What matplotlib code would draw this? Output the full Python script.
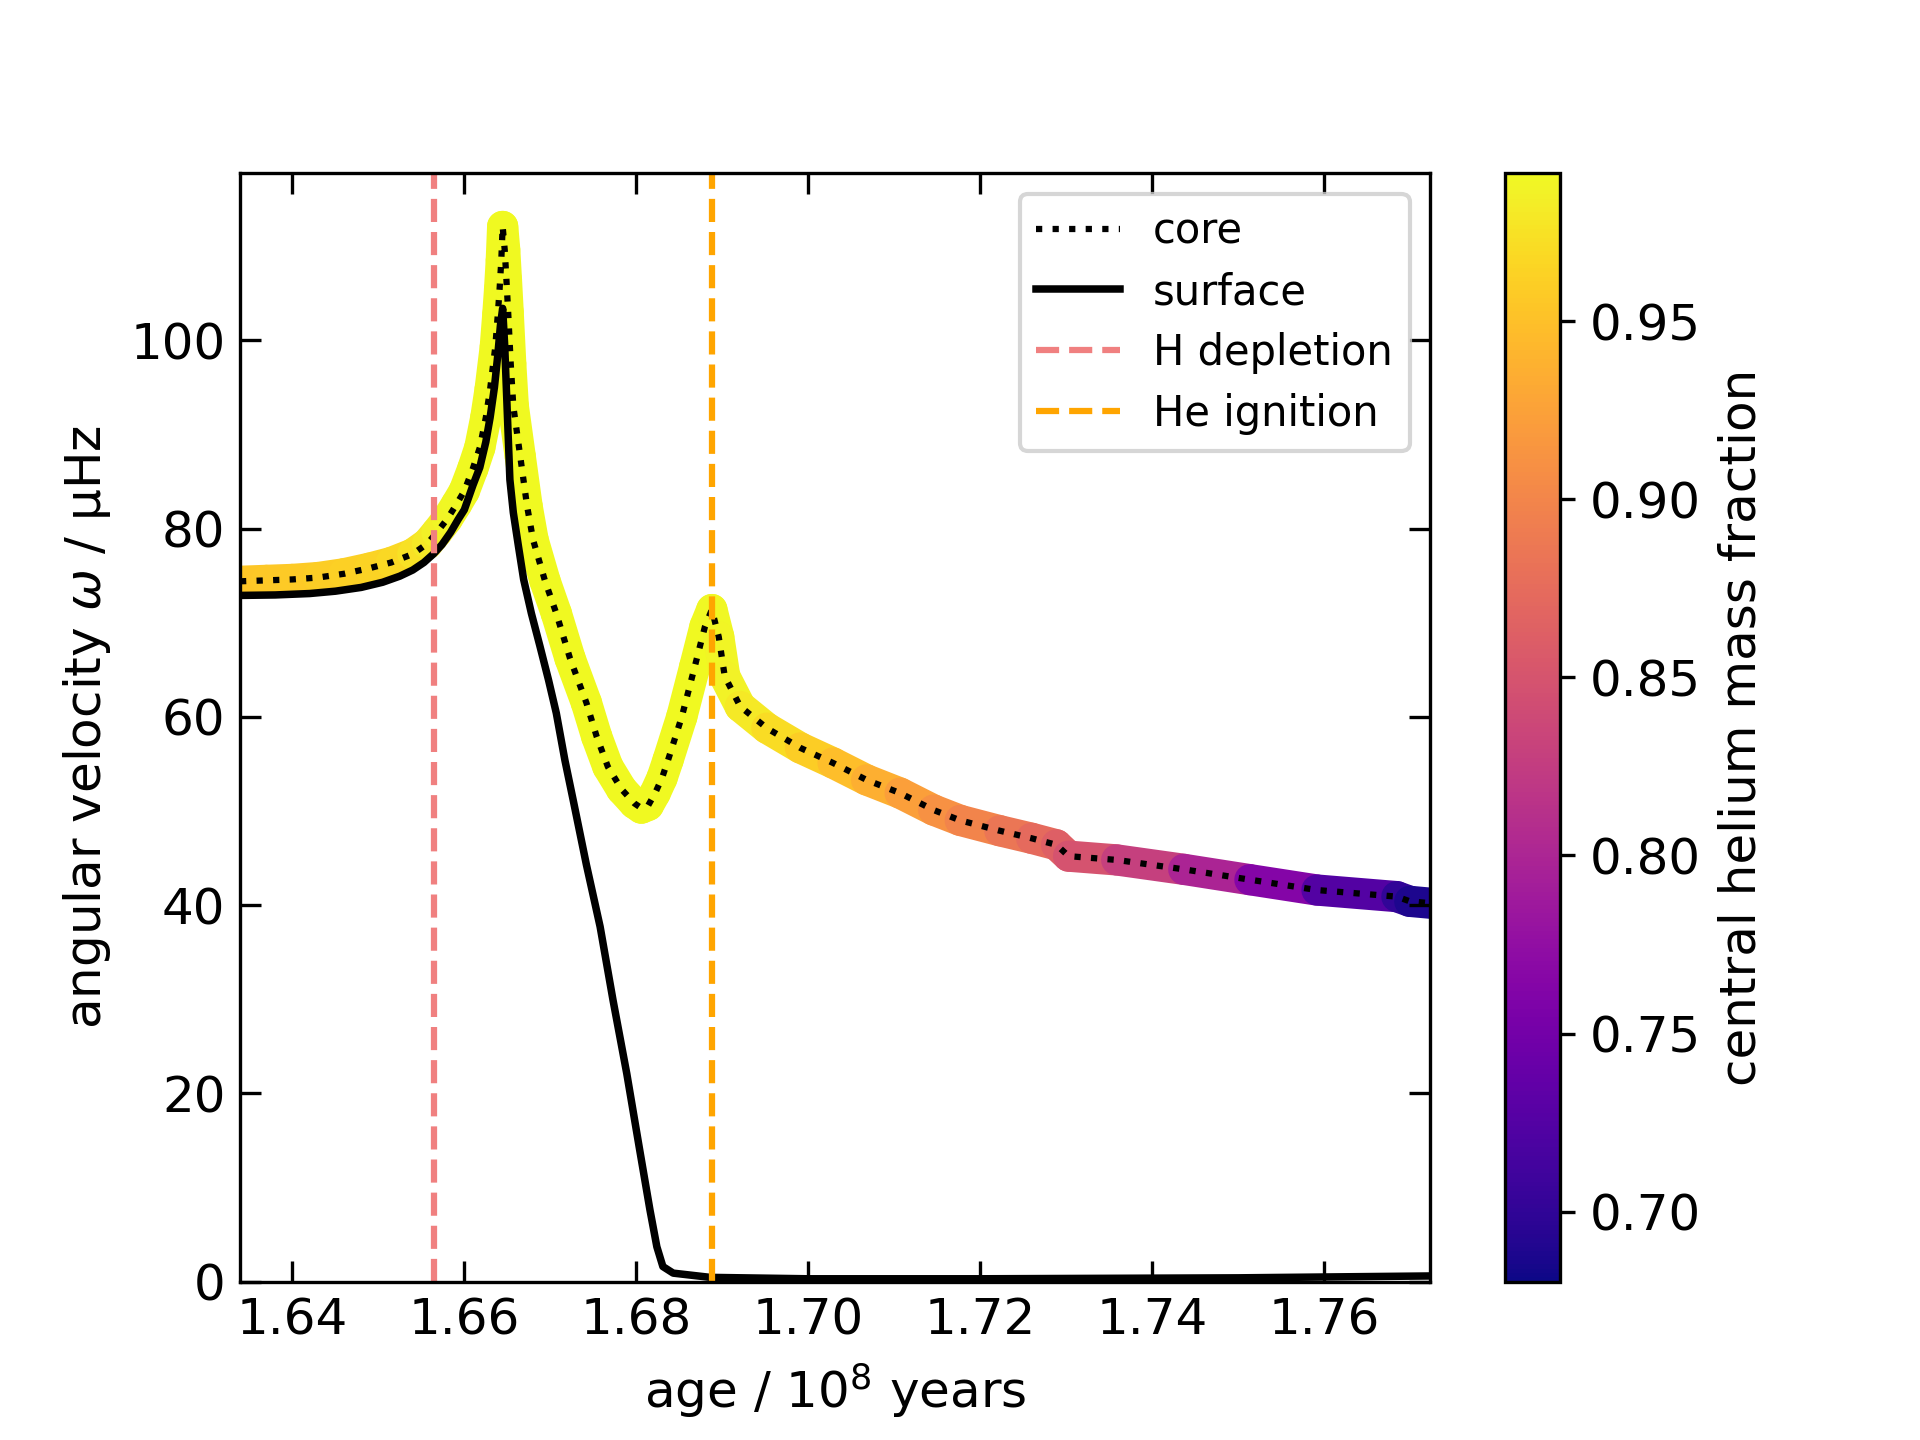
import numpy as np
import matplotlib
matplotlib.use("Agg")
import matplotlib.pyplot as plt
from matplotlib.collections import LineCollection
from matplotlib.colors import Normalize

# core rotation (age in 1e8 yr, omega in muHz)
core_age = [1.6339, 1.6370, 1.6400, 1.6430, 1.6460, 1.6490, 1.6515, 1.6540,
            1.6557, 1.6568, 1.6580, 1.6591, 1.6600, 1.6610, 1.6618, 1.6625,
            1.6630, 1.6636, 1.6639, 1.6641, 1.6643, 1.66446, 1.6647, 1.6649,
            1.6651, 1.6654, 1.6657, 1.6665, 1.6673, 1.6680, 1.6694, 1.6707,
            1.6723, 1.6742, 1.6754, 1.6767, 1.6783, 1.6798, 1.6806, 1.6814,
            1.6822, 1.6830, 1.6837, 1.6853, 1.6868, 1.6880, 1.6888, 1.6896,
            1.6903, 1.6921, 1.6952, 1.6991, 1.7029, 1.7068, 1.7107, 1.7146,
            1.7177, 1.7223, 1.7260, 1.7289, 1.7303, 1.7359, 1.7437, 1.7514,
            1.7592, 1.7685, 1.7700, 1.7724]
core_omega = [74.4, 74.5, 74.6, 74.8, 75.2, 75.8, 76.4, 77.3,
              78.4, 79.6, 81.0, 82.6, 84.0, 86.4, 88.6, 91.8,
              94.8, 99.3, 102.8, 105.4, 108.5, 112.1, 109.6, 106.4,
              103.0, 97.5, 93.0, 87.7, 82.4, 78.8, 74.4, 71.0,
              66.2, 61.5, 57.9, 54.7, 52.3, 50.8, 50.3, 50.6,
              51.9, 53.5, 55.4, 60.0, 65.3, 69.6, 71.4, 68.5,
              64.3, 61.1, 58.8, 56.7, 55.1, 53.3, 51.9, 50.1,
              49.0, 47.9, 47.1, 46.4, 45.2, 44.8, 43.8, 42.7,
              41.6, 40.9, 40.4, 40.2]
core_he = [0.953, 0.955, 0.956, 0.958, 0.960, 0.963, 0.966, 0.971,
           0.977, 0.983, 0.987, 0.989, 0.990, 0.991, 0.991, 0.991,
           0.991, 0.991, 0.991, 0.991, 0.991, 0.9916, 0.9916, 0.9916,
           0.9916, 0.9916, 0.9916, 0.9916, 0.9916, 0.9916, 0.9916, 0.9916,
           0.9916, 0.9916, 0.9916, 0.9916, 0.9916, 0.9916, 0.9916, 0.9916,
           0.9916, 0.9916, 0.9916, 0.9916, 0.9916, 0.9916, 0.991, 0.989,
           0.988, 0.984, 0.975, 0.965, 0.954, 0.943, 0.930, 0.917,
           0.905, 0.892, 0.878, 0.867, 0.857, 0.840, 0.815, 0.783,
           0.745, 0.705, 0.695, 0.6804]

# surface rotation
surf_age = [1.6339, 1.6380, 1.6420, 1.6450, 1.6480, 1.6505, 1.6525, 1.6540,
            1.6553, 1.6564, 1.6574, 1.6584, 1.6593, 1.6600, 1.6610, 1.6618,
            1.6625, 1.6630, 1.6635, 1.6639, 1.6642, 1.66446, 1.6647, 1.6650,
            1.6653, 1.6657, 1.6663, 1.6669, 1.6678, 1.6688, 1.6698, 1.6707,
            1.6717, 1.6727, 1.6742, 1.6758, 1.6773, 1.6789, 1.6804, 1.6816,
            1.6824, 1.6831, 1.6843, 1.6886, 1.7000, 1.7200, 1.7500, 1.7724]
surf_omega = [72.9, 72.95, 73.1, 73.35, 73.75, 74.3, 74.95, 75.6,
              76.4, 77.3, 78.3, 79.6, 81.0, 82.0, 84.6, 86.5,
              89.2, 91.8, 95.0, 98.5, 101.6, 103.4, 99.4, 92.3,
              85.2, 81.7, 78.1, 74.6, 71.0, 67.5, 63.9, 60.4,
              55.4, 51.0, 44.3, 37.7, 29.9, 22.1, 14.0, 7.6,
              3.7, 1.6, 0.9, 0.45, 0.3, 0.3, 0.4, 0.6]

h_depletion_age = 1.6565
he_ignition_age = 1.6888

plt.rcParams["font.size"] = 12

fig, ax = plt.subplots(figsize=(6.4, 4.8), dpi=300)

# thick coloured track of the core, coloured by central He fraction
pts = np.column_stack([core_age, core_omega]).reshape(-1, 1, 2)
segs = np.concatenate([pts[:-1], pts[1:]], axis=1)
he = np.asarray(core_he)
norm = Normalize(vmin=he.min(), vmax=he.max())
track = LineCollection(segs, cmap="plasma", norm=norm, linewidths=7.5,
                       capstyle="round", joinstyle="round", zorder=1)
track.set_array(0.5 * (he[:-1] + he[1:]))
ax.add_collection(track)

ax.plot(core_age, core_omega, ":", color="k", lw=1.5, label="core")
ax.plot(surf_age, surf_omega, "-", color="k", lw=1.8, label="surface")
ax.axvline(h_depletion_age, color="lightcoral", ls="--", lw=1.5, label="H depletion")
ax.axvline(he_ignition_age, color="orange", ls="--", lw=1.5, label="He ignition")

ax.set_xlim(1.6339, 1.7724)
ax.set_ylim(0, 117.8)
ax.tick_params(direction="in", top=True, right=True, length=5)
ax.set_xlabel(r"age / $10^8$ years")
ax.set_ylabel(r"angular velocity $\omega$ / µHz")
ax.legend(loc="upper right", fontsize=10, labelspacing=0.45)

cb = fig.colorbar(track, ax=ax)
cb.set_label("central helium mass fraction")

plt.savefig("out.png", dpi=300)
